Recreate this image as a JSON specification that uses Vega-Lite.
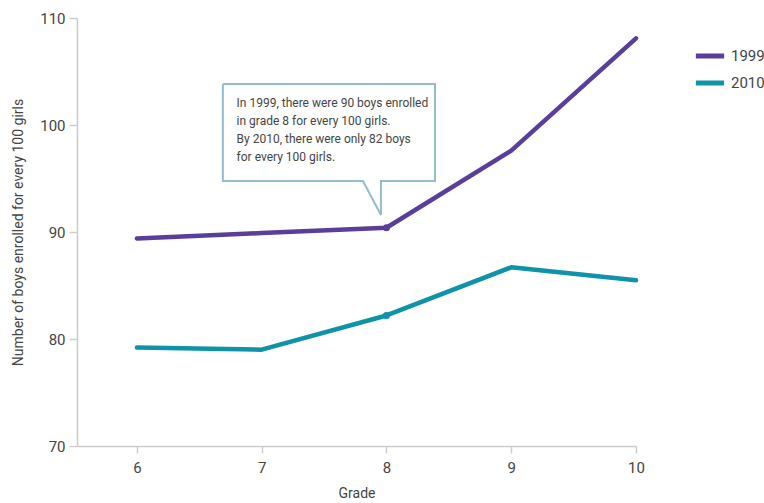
{
  "$schema": "https://vega.github.io/schema/vega-lite/v6.json",
  "autosize": {"type": "none"},
  "padding": {"left": 77, "top": 18, "right": 128, "bottom": 57},
  "width": 559,
  "height": 428,
  "background": "white",
  "config": {
    "view": {"stroke": null},
    "font": "Roboto",
    "axis": {
      "domainColor": "#cccccc",
      "tickColor": "#cccccc",
      "domainWidth": 1.5,
      "tickWidth": 1.5,
      "grid": false,
      "labelColor": "#444444",
      "labelFontSize": 15,
      "titleColor": "#444444",
      "titleFontSize": 14,
      "titleFontWeight": "normal",
      "labelFont": "Roboto",
      "titleFont": "Roboto"
    },
    "legend": {"labelFont": "Roboto"}
  },
  "datasets": {
    "series": [
      {"grade": 6, "value": 89.4, "year": "1999"},
      {"grade": 7, "value": 89.9, "year": "1999"},
      {"grade": 8, "value": 90.4, "year": "1999"},
      {"grade": 9, "value": 97.6, "year": "1999"},
      {"grade": 10, "value": 108.1, "year": "1999"},
      {"grade": 6, "value": 79.2, "year": "2010"},
      {"grade": 7, "value": 79.0, "year": "2010"},
      {"grade": 8, "value": 82.2, "year": "2010"},
      {"grade": 9, "value": 86.7, "year": "2010"},
      {"grade": 10, "value": 85.5, "year": "2010"}
    ],
    "callout": [
      {"ord": 1, "grade": 6.689, "value": 103.83},
      {"ord": 2, "grade": 8.389, "value": 103.83},
      {"ord": 3, "grade": 8.389, "value": 94.77},
      {"ord": 4, "grade": 7.956, "value": 94.77},
      {"ord": 5, "grade": 7.956, "value": 91.59},
      {"ord": 6, "grade": 7.812, "value": 94.77},
      {"ord": 7, "grade": 6.689, "value": 94.77},
      {"ord": 8, "grade": 6.689, "value": 103.83}
    ],
    "note": [
      {"grade": 6.799, "value": 102.5, "label": "In 1999, there were 90 boys enrolled\nin grade 8 for every 100 girls.\nBy 2010, there were only 82 boys\nfor every 100 girls."}
    ]
  },
  "layer": [
    {
      "data": {"name": "callout"},
      "mark": {"type": "line", "stroke": "#93bccf", "strokeWidth": 2, "fill": "white", "strokeJoin": "miter"},
      "encoding": {
        "x": {"field": "grade", "type": "quantitative"},
        "y": {"field": "value", "type": "quantitative"},
        "order": {"field": "ord", "type": "quantitative"}
      }
    },
    {
      "data": {"name": "note"},
      "mark": {"type": "text", "align": "left", "baseline": "top", "lineBreak": "\n", "lineHeight": 18, "fontSize": 12, "color": "#444444"},
      "encoding": {
        "x": {"field": "grade", "type": "quantitative"},
        "y": {"field": "value", "type": "quantitative"},
        "text": {"field": "label", "type": "nominal"}
      }
    },
    {
      "data": {"name": "series"},
      "mark": {"type": "line", "strokeWidth": 4.5, "strokeCap": "round", "strokeJoin": "round"},
      "encoding": {
        "x": {
          "field": "grade", "type": "quantitative",
          "scale": {"domain": [5.52, 10], "nice": false, "zero": false},
          "axis": {"values": [6, 7, 8, 9, 10], "format": "d", "title": "Grade", "tickSize": 7, "labelPadding": 7, "titlePadding": 11, "labelFlush": false}
        },
        "y": {
          "field": "value", "type": "quantitative",
          "scale": {"domain": [70, 110], "nice": false, "zero": false},
          "axis": {"values": [70, 80, 90, 100, 110], "format": "d", "title": "Number of boys enrolled for every 100 girls", "tickSize": 8, "labelPadding": 4, "titlePadding": 14, "labelFlush": false}
        },
        "color": {
          "field": "year", "type": "nominal",
          "scale": {"domain": ["1999", "2010"], "range": ["#5a3e9b", "#0e93a9"]},
          "legend": {
            "title": null, "orient": "none", "legendX": 616, "legendY": 21,
            "symbolType": "stroke", "symbolSize": 800, "symbolStrokeWidth": 5,
            "labelFontSize": 15, "labelColor": "#444444", "rowPadding": -3, "labelOffset": 4
          }
        }
      }
    },
    {
      "data": {"name": "series"},
      "transform": [{"filter": "datum.grade == 8"}],
      "mark": {"type": "circle", "size": 50, "opacity": 1},
      "encoding": {
        "x": {"field": "grade", "type": "quantitative"},
        "y": {"field": "value", "type": "quantitative"},
        "color": {"field": "year", "type": "nominal", "legend": null}
      }
    }
  ]
}
